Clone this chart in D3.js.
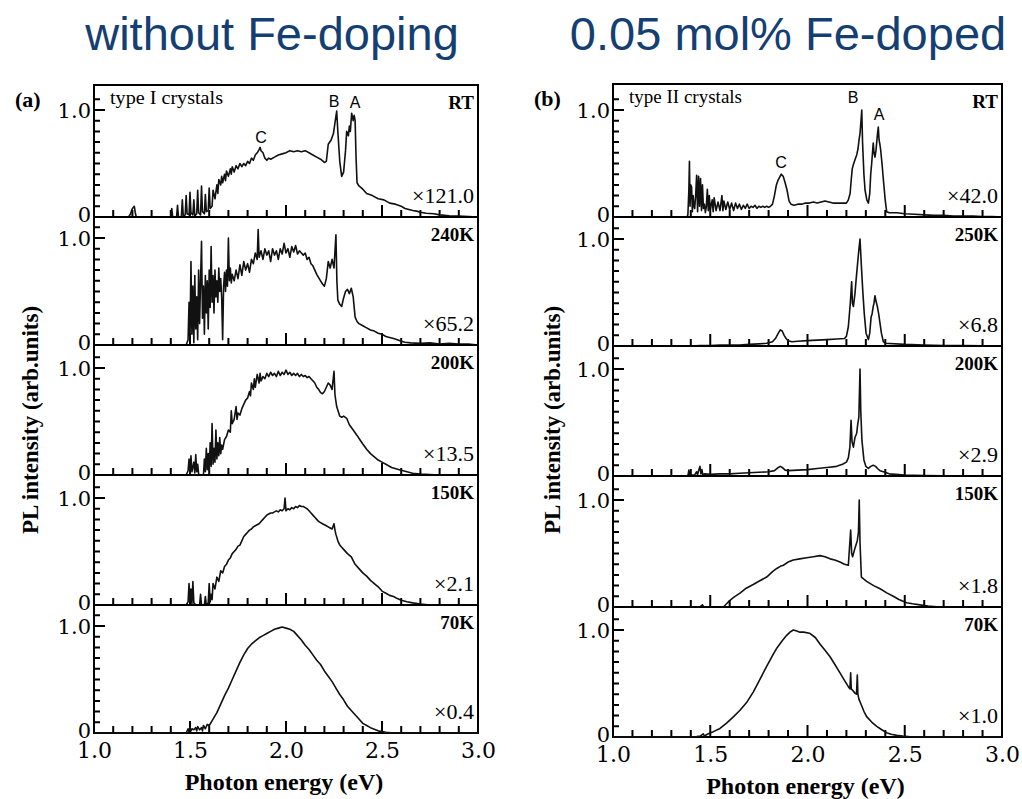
<!DOCTYPE html>
<html>
<head>
<meta charset="utf-8">
<script src="https://cdn.jsdelivr.net/npm/d3@7"></script>
<style>
  body { margin: 0; background: #fff; }
  svg { display: block; }
  .serif { font-family: "Liberation Serif", "Times New Roman", serif; }
</style>
</head>
<body>
<svg id="chart" width="1022" height="799"></svg>
<script>
// ---- data ----
const titles = ["without Fe-doping", "0.05 mol% Fe-doped"];
const panelTags = ["(a)", "(b)"];
const crystalTypes = ["type I crystals", "type II crystals"];
const tempsA = ["RT", "240K", "200K", "150K", "70K"];
const tempsB = ["RT", "250K", "200K", "150K", "70K"];
const factorsA = ["×121.0", "×65.2", "×13.5", "×2.1", "×0.4"];
const factorsB = ["×42.0", "×6.8", "×2.9", "×1.8", "×1.0"];
const xTickLabels = [1.0, 1.5, 2.0, 2.5, 3.0];
const xMinorTicks = [1.1, 1.2, 1.3, 1.4, 1.6, 1.7, 1.8, 1.9, 2.1, 2.2, 2.3, 2.4, 2.6, 2.7, 2.8, 2.9];
const xMajorTicks = [1.5, 2.0, 2.5];
const yMinorTicks = [0.1, 0.2, 0.3, 0.4, 0.5, 0.6, 0.7, 0.8, 0.9, 1.1];
const yTickLabels = [0, 1.0];

// peak letters on the RT spectra: [letter, eV, level]
const peaksA = [["C", 1.87, 0.69], ["B", 2.25, 1.03], ["A", 2.36, 1.02]];
const peaksB = [["C", 1.864, 0.46], ["B", 2.234, 1.07], ["A", 2.368, 0.91]];

// type I, RT
const a_RT = [[1.0,0],[1.18,0],[1.19,0.03],[1.2,0.08],[1.21,0.1],[1.215,0.04],[1.22,0],
  [1.4,0],[1.405,0.08],[1.41,0],[1.43,0],[1.435,0.11],[1.44,0],[1.455,0],[1.46,0.16],[1.465,0.01],
  [1.475,0.02],[1.48,0.2],[1.485,0.03],[1.495,0.02],[1.5,0.23],[1.505,0.04],[1.515,0.02],[1.52,0.16],
  [1.525,0.01],[1.535,0.03],[1.54,0.25],[1.545,0.04],[1.555,0.02],[1.56,0.29],[1.565,0.05],[1.575,0.03],
  [1.58,0.21],[1.585,0.05],[1.595,0.06],[1.6,0.27],[1.605,0.08],[1.615,0.1],[1.62,0.25],[1.63,0.17],
  [1.64,0.3],[1.645,0.22],[1.65,0.35],[1.66,0.3],[1.665,0.38],[1.67,0.32],[1.68,0.4],[1.685,0.34],
  [1.69,0.43],[1.7,0.38],[1.71,0.45],[1.715,0.4],[1.72,0.47],[1.73,0.42],[1.74,0.48],[1.75,0.45],
  [1.76,0.5],[1.77,0.47],[1.78,0.5],[1.79,0.48],[1.8,0.52],[1.81,0.5],[1.82,0.55],[1.83,0.53],
  [1.84,0.58],[1.85,0.6],[1.86,0.63],[1.865,0.65],[1.87,0.62],[1.88,0.6],[1.89,0.55],[1.9,0.53],
  [1.91,0.55],[1.92,0.54],[1.94,0.56],[1.96,0.58],[1.98,0.59],[2.0,0.6],[2.02,0.62],[2.04,0.61],
  [2.06,0.62],[2.08,0.61],[2.1,0.62],[2.12,0.6],[2.14,0.58],[2.16,0.56],[2.18,0.54],[2.2,0.51],
  [2.21,0.52],[2.22,0.68],[2.235,0.72],[2.247,0.78],[2.255,0.88],[2.264,0.99],[2.27,0.8],[2.28,0.52],
  [2.29,0.38],[2.3,0.42],[2.31,0.62],[2.316,0.8],[2.325,0.76],[2.33,0.85],[2.335,0.8],[2.342,0.97],
  [2.35,0.9],[2.355,0.95],[2.36,0.9],[2.365,0.55],[2.37,0.32],[2.38,0.29],[2.4,0.26],[2.42,0.22],
  [2.45,0.2],[2.48,0.17],[2.51,0.16],[2.54,0.13],[2.57,0.12],[2.6,0.1],[2.62,0.08],[2.64,0.07],
  [2.66,0.06],[2.68,0.055],[2.7,0.045],[2.73,0.035],[2.77,0.03],[2.8,0.02],[2.85,0.012],[2.9,0.01],
  [2.95,0.005],[3.0,0]];

// type I, 240K
const a_240 = [[1.0,0],[1.48,0],[1.49,0.05],[1.495,0.4],[1.5,0.05],[1.505,0.78],[1.51,0.1],[1.515,0.55],
  [1.52,0.02],[1.525,0.65],[1.53,0.15],[1.535,0.45],[1.54,0.05],[1.545,0.7],[1.55,0.2],[1.555,0.6],
  [1.56,0.97],[1.565,0.25],[1.57,0.55],[1.575,0.1],[1.58,0.65],[1.585,0.3],[1.59,0.6],[1.595,0.15],
  [1.6,0.7],[1.605,0.35],[1.61,0.92],[1.615,0.4],[1.62,0.65],[1.625,0.3],[1.63,0.7],[1.635,0.45],
  [1.64,0.6],[1.645,0.4],[1.65,0.72],[1.655,0.5],[1.66,0.62],[1.665,0.45],[1.67,0.05],[1.675,0.55],
  [1.68,0.68],[1.685,0.5],[1.69,0.7],[1.695,0.55],[1.7,1.0],[1.705,0.6],[1.71,0.72],[1.715,0.58],
  [1.72,0.66],[1.73,0.6],[1.74,0.7],[1.75,0.62],[1.76,0.75],[1.77,0.65],[1.78,0.78],[1.79,0.7],
  [1.8,0.76],[1.81,0.68],[1.82,0.8],[1.83,0.76],[1.84,0.86],[1.85,0.8],[1.855,1.08],[1.86,0.82],
  [1.87,0.88],[1.88,0.8],[1.89,0.9],[1.9,0.84],[1.91,0.88],[1.92,0.78],[1.93,0.9],[1.94,0.84],
  [1.95,0.88],[1.96,0.8],[1.97,0.9],[1.98,0.85],[1.99,0.95],[2.0,0.86],[2.01,0.9],[2.02,0.82],
  [2.03,0.92],[2.04,0.87],[2.05,0.93],[2.06,0.85],[2.07,0.88],[2.08,0.86],[2.09,0.84],[2.1,0.86],
  [2.11,0.8],[2.12,0.82],[2.13,0.76],[2.14,0.74],[2.15,0.7],[2.16,0.66],[2.17,0.63],[2.18,0.6],
  [2.19,0.57],[2.2,0.55],[2.21,0.62],[2.22,0.78],[2.23,0.72],[2.24,0.8],[2.25,0.72],[2.26,1.03],
  [2.265,0.6],[2.27,0.42],[2.28,0.38],[2.29,0.36],[2.3,0.44],[2.31,0.5],[2.32,0.52],[2.33,0.48],
  [2.34,0.53],[2.35,0.45],[2.36,0.26],[2.37,0.22],[2.38,0.2],[2.4,0.18],[2.42,0.16],[2.44,0.14],
  [2.46,0.13],[2.48,0.11],[2.5,0.1],[2.52,0.08],[2.54,0.07],[2.56,0.06],[2.58,0.05],[2.6,0.035],
  [2.62,0.025],[2.65,0.02],[2.7,0.015],[2.75,0.02],[2.8,0.01],[2.85,0.015],[2.9,0.01],[2.95,0.01],[3.0,0]];

// type I, 200K
const a_200 = [[1.0,0],[1.48,0],[1.49,0.04],[1.495,0.15],[1.5,0.02],[1.505,0.18],[1.51,0.03],[1.52,0.12],
  [1.525,0.02],[1.53,0.19],[1.535,0.03],[1.54,0.1],[1.545,0.01],[1.55,0],[1.57,0],[1.575,0.15],
  [1.58,0.03],[1.585,0.25],[1.59,0.05],[1.595,0.2],[1.6,0.04],[1.605,0.3],[1.61,0.08],[1.615,0.48],
  [1.62,0.1],[1.625,0.25],[1.63,0.12],[1.635,0.42],[1.64,0.15],[1.645,0.3],[1.65,0.18],[1.655,0.35],
  [1.66,0.2],[1.665,0.28],[1.67,0.24],[1.68,0.33],[1.69,0.36],[1.7,0.42],[1.71,0.4],[1.715,0.6],
  [1.72,0.48],[1.73,0.52],[1.74,0.64],[1.745,0.52],[1.75,0.58],[1.76,0.56],[1.77,0.62],[1.78,0.66],
  [1.79,0.7],[1.8,0.72],[1.81,0.78],[1.815,0.74],[1.82,0.86],[1.83,0.8],[1.835,0.9],[1.84,0.82],
  [1.85,0.94],[1.86,0.86],[1.865,0.95],[1.87,0.88],[1.88,0.92],[1.89,0.9],[1.9,0.95],[1.91,0.92],
  [1.92,0.96],[1.93,0.93],[1.94,0.95],[1.95,0.92],[1.96,0.97],[1.97,0.93],[1.98,0.96],[1.99,0.94],
  [2.0,0.98],[2.01,0.94],[2.02,0.96],[2.03,0.93],[2.04,0.95],[2.05,0.93],[2.06,0.95],[2.07,0.92],
  [2.08,0.94],[2.09,0.92],[2.1,0.93],[2.11,0.91],[2.12,0.92],[2.13,0.9],[2.14,0.88],[2.15,0.86],
  [2.16,0.82],[2.17,0.8],[2.18,0.77],[2.19,0.76],[2.2,0.78],[2.21,0.82],[2.22,0.86],[2.23,0.84],
  [2.24,0.8],[2.25,0.97],[2.255,0.75],[2.264,0.64],[2.28,0.55],[2.29,0.54],[2.3,0.55],[2.316,0.53],
  [2.33,0.47],[2.35,0.42],[2.37,0.37],[2.385,0.33],[2.4,0.29],[2.42,0.24],[2.44,0.2],[2.46,0.17],
  [2.48,0.14],[2.5,0.12],[2.52,0.1],[2.55,0.07],[2.59,0.05],[2.63,0.03],[2.66,0.016],[2.7,0.008],
  [2.75,0.004],[2.8,0],[3.0,0]];

// type I, 150K
const a_150 = [[1.0,0],[1.48,0],[1.49,0.03],[1.495,0.2],[1.5,0.02],[1.505,0.15],[1.51,0.01],[1.515,0.22],
  [1.52,0.02],[1.53,0],[1.55,0],[1.555,0.1],[1.56,0],[1.575,0],[1.58,0.08],[1.585,0],[1.595,0.02],
  [1.6,0.2],[1.605,0.03],[1.61,0.1],[1.615,0.05],[1.62,0.2],[1.63,0.15],[1.64,0.26],[1.65,0.22],
  [1.66,0.32],[1.67,0.3],[1.68,0.36],[1.69,0.38],[1.7,0.42],[1.71,0.44],[1.72,0.48],[1.73,0.5],
  [1.74,0.52],[1.75,0.55],[1.76,0.56],[1.77,0.6],[1.78,0.64],[1.79,0.66],[1.8,0.68],[1.81,0.7],
  [1.82,0.71],[1.83,0.73],[1.84,0.74],[1.85,0.75],[1.86,0.76],[1.87,0.78],[1.88,0.8],[1.89,0.82],
  [1.9,0.84],[1.91,0.85],[1.92,0.86],[1.93,0.86],[1.94,0.87],[1.95,0.88],[1.96,0.87],[1.97,0.89],
  [1.98,0.88],[1.99,0.9],[1.995,1.0],[2.0,0.88],[2.01,0.9],[2.02,0.89],[2.03,0.91],[2.04,0.9],
  [2.05,0.92],[2.06,0.91],[2.07,0.93],[2.08,0.92],[2.09,0.92],[2.1,0.91],[2.11,0.9],[2.12,0.88],
  [2.13,0.86],[2.14,0.84],[2.15,0.82],[2.16,0.8],[2.17,0.78],[2.18,0.77],[2.19,0.76],[2.2,0.75],
  [2.21,0.74],[2.22,0.73],[2.23,0.72],[2.24,0.71],[2.25,0.76],[2.255,0.7],[2.26,0.66],[2.27,0.6],
  [2.28,0.56],[2.29,0.54],[2.3,0.52],[2.32,0.48],[2.34,0.45],[2.36,0.38],[2.38,0.34],[2.4,0.3],
  [2.42,0.27],[2.44,0.23],[2.46,0.2],[2.48,0.17],[2.5,0.13],[2.52,0.11],[2.54,0.09],[2.56,0.08],
  [2.58,0.06],[2.6,0.045],[2.63,0.03],[2.66,0.02],[2.7,0.01],[2.75,0],[3.0,0]];

// type I, 70K
const a_70 = [[1.0,0],[1.48,0],[1.49,0.04],[1.495,0.01],[1.5,0.05],[1.505,0.02],[1.51,0.04],[1.52,0.03],
  [1.53,0.05],[1.535,0.02],[1.54,0.06],[1.55,0.03],[1.56,0.05],[1.565,0.02],[1.57,0.07],[1.58,0.04],
  [1.59,0.08],[1.6,0.07],[1.61,0.1],[1.62,0.13],[1.64,0.19],[1.66,0.27],[1.68,0.35],[1.7,0.42],
  [1.72,0.5],[1.74,0.58],[1.76,0.66],[1.78,0.73],[1.8,0.79],[1.82,0.83],[1.84,0.86],[1.86,0.89],
  [1.88,0.91],[1.9,0.93],[1.92,0.95],[1.94,0.97],[1.96,0.98],[1.98,0.99],[2.0,0.98],[2.02,0.97],
  [2.04,0.95],[2.06,0.91],[2.08,0.87],[2.1,0.82],[2.12,0.78],[2.14,0.73],[2.16,0.68],[2.18,0.64],
  [2.2,0.58],[2.22,0.53],[2.24,0.48],[2.26,0.42],[2.28,0.36],[2.3,0.31],[2.32,0.25],[2.34,0.21],
  [2.36,0.17],[2.38,0.13],[2.4,0.09],[2.42,0.07],[2.44,0.05],[2.46,0.035],[2.48,0.02],[2.52,0.006],
  [2.56,0],[3.0,0]];

// type II, RT
const b_RT = [[1.0,0],[1.38,0],[1.385,0.02],[1.39,0.25],[1.393,0.52],[1.396,0.1],[1.4,0.3],[1.404,0.28],
  [1.408,0.05],[1.412,0.2],[1.416,0.1],[1.42,0.08],[1.425,0.2],[1.43,0.39],[1.435,0.05],[1.44,0.38],
  [1.445,0.1],[1.45,0.36],[1.455,0.06],[1.46,0.3],[1.465,0.08],[1.47,0.12],[1.475,0.04],[1.48,0.1],
  [1.485,0.26],[1.49,0.06],[1.495,0.2],[1.5,0.07],[1.51,0.16],[1.515,0.05],[1.52,0.18],[1.53,0.06],
  [1.54,0.14],[1.55,0.06],[1.56,0.2],[1.565,0.06],[1.57,0.15],[1.58,0.07],[1.59,0.14],[1.6,0.07],
  [1.61,0.13],[1.62,0.06],[1.63,0.13],[1.64,0.08],[1.65,0.12],[1.66,0.07],[1.67,0.11],[1.68,0.08],
  [1.69,0.12],[1.7,0.08],[1.71,0.1],[1.72,0.09],[1.73,0.11],[1.74,0.08],[1.75,0.1],[1.76,0.09],
  [1.77,0.1],[1.78,0.09],[1.79,0.1],[1.8,0.09],[1.81,0.1],[1.82,0.12],[1.83,0.2],[1.84,0.3],
  [1.85,0.35],[1.865,0.4],[1.875,0.38],[1.885,0.32],[1.895,0.25],[1.905,0.15],[1.915,0.12],[1.93,0.11],
  [1.95,0.12],[1.97,0.12],[1.99,0.13],[2.01,0.13],[2.03,0.14],[2.05,0.13],[2.07,0.14],[2.09,0.15],
  [2.11,0.14],[2.13,0.13],[2.15,0.13],[2.17,0.13],[2.2,0.13],[2.21,0.16],[2.219,0.22],[2.225,0.35],
  [2.23,0.45],[2.236,0.49],[2.245,0.54],[2.253,0.58],[2.26,0.64],[2.265,0.72],[2.27,0.78],[2.275,0.9],
  [2.279,1.0],[2.283,0.7],[2.29,0.4],[2.296,0.25],[2.305,0.16],[2.313,0.13],[2.32,0.22],[2.325,0.4],
  [2.33,0.5],[2.335,0.62],[2.338,0.69],[2.342,0.6],[2.347,0.56],[2.352,0.62],[2.356,0.7],[2.36,0.78],
  [2.364,0.84],[2.368,0.72],[2.372,0.68],[2.376,0.63],[2.383,0.5],[2.39,0.35],[2.4,0.15],[2.407,0.05],
  [2.42,0.04],[2.46,0.04],[2.5,0.03],[2.55,0.025],[2.6,0.02],[2.65,0.015],[2.7,0.015],[2.75,0.01],
  [2.8,0.01],[2.85,0.01],[2.9,0.005],[2.95,0.005],[3.0,0]];

// type II, 250K
const b_250 = [[1.0,0],[1.4,0],[1.45,0.005],[1.5,0.005],[1.55,0.008],[1.6,0.01],[1.65,0.01],[1.7,0.015],
  [1.75,0.02],[1.79,0.025],[1.82,0.04],[1.835,0.07],[1.85,0.12],[1.86,0.15],[1.87,0.14],[1.88,0.1],
  [1.89,0.07],[1.9,0.05],[1.92,0.04],[1.95,0.045],[2.0,0.05],[2.05,0.055],[2.1,0.06],[2.15,0.065],
  [2.19,0.07],[2.2,0.09],[2.21,0.18],[2.22,0.4],[2.227,0.6],[2.231,0.4],[2.236,0.37],[2.244,0.49],
  [2.25,0.62],[2.256,0.74],[2.263,0.88],[2.27,1.0],[2.277,0.75],[2.284,0.52],[2.292,0.3],[2.301,0.12],
  [2.313,0.06],[2.32,0.12],[2.327,0.27],[2.332,0.3],[2.338,0.37],[2.342,0.4],[2.347,0.47],[2.352,0.42],
  [2.359,0.37],[2.366,0.3],[2.373,0.21],[2.38,0.12],[2.39,0.04],[2.4,0.025],[2.5,0.015],[2.6,0.01],
  [2.7,0.005],[2.8,0.005],[3.0,0]];

// type II, 200K
const b_200 = [[1.0,0],[1.385,0],[1.39,0.055],[1.395,0.01],[1.42,0.01],[1.43,0.04],[1.435,0.01],[1.44,0.05],
  [1.447,0.09],[1.452,0.02],[1.457,0.06],[1.462,0.01],[1.47,0.02],[1.5,0.015],[1.55,0.02],[1.6,0.02],
  [1.65,0.025],[1.7,0.03],[1.75,0.035],[1.8,0.04],[1.83,0.05],[1.85,0.08],[1.86,0.09],[1.87,0.08],
  [1.885,0.055],[1.9,0.05],[1.95,0.055],[2.0,0.06],[2.05,0.07],[2.1,0.08],[2.15,0.09],[2.18,0.11],
  [2.2,0.13],[2.21,0.17],[2.218,0.27],[2.224,0.52],[2.229,0.32],[2.236,0.27],[2.244,0.36],[2.253,0.4],
  [2.258,0.48],[2.264,0.55],[2.27,1.0],[2.274,0.6],[2.28,0.33],[2.29,0.15],[2.3,0.09],[2.313,0.07],
  [2.325,0.09],[2.338,0.1],[2.35,0.09],[2.36,0.07],[2.373,0.05],[2.39,0.04],[2.42,0.02],[2.5,0.01],
  [2.6,0.005],[2.7,0.003],[3.0,0]];

// type II, 150K
const b_150 = [[1.0,0],[1.4,0],[1.45,0.005],[1.46,0.02],[1.465,0.005],[1.5,0.003],[1.55,0],[1.57,0.005],
  [1.584,0.03],[1.6,0.06],[1.62,0.09],[1.653,0.13],[1.68,0.17],[1.721,0.21],[1.75,0.24],[1.79,0.28],
  [1.82,0.33],[1.842,0.36],[1.86,0.38],[1.876,0.39],[1.9,0.42],[1.927,0.44],[1.96,0.45],[1.996,0.46],
  [2.03,0.47],[2.064,0.48],[2.09,0.47],[2.116,0.45],[2.14,0.44],[2.167,0.42],[2.19,0.4],[2.21,0.39],
  [2.222,0.72],[2.227,0.5],[2.232,0.47],[2.244,0.55],[2.256,0.62],[2.262,0.7],[2.266,1.0],[2.27,0.6],
  [2.277,0.28],[2.29,0.26],[2.304,0.24],[2.34,0.2],[2.373,0.17],[2.41,0.13],[2.441,0.1],[2.47,0.07],
  [2.51,0.04],[2.54,0.03],[2.578,0.02],[2.62,0.01],[2.664,0.003],[2.7,0],[3.0,0]];

// type II, 70K
const b_70 = [[1.0,0],[1.4,0],[1.43,0.005],[1.45,0.01],[1.464,0.03],[1.47,0.01],[1.49,0.03],[1.516,0.05],
  [1.55,0.08],[1.584,0.13],[1.62,0.19],[1.653,0.25],[1.69,0.33],[1.721,0.42],[1.75,0.52],[1.79,0.66],
  [1.82,0.76],[1.842,0.83],[1.87,0.9],[1.893,0.95],[1.91,0.98],[1.927,1.0],[1.945,0.99],[1.961,0.98],
  [1.98,0.98],[2.01,0.97],[2.04,0.93],[2.064,0.87],[2.09,0.81],[2.116,0.75],[2.14,0.68],[2.167,0.6],
  [2.19,0.53],[2.21,0.47],[2.218,0.45],[2.222,0.6],[2.225,0.45],[2.235,0.43],[2.244,0.41],[2.252,0.4],
  [2.256,0.58],[2.259,0.4],[2.265,0.35],[2.27,0.33],[2.29,0.24],[2.304,0.19],[2.33,0.14],[2.356,0.1],
  [2.38,0.07],[2.407,0.04],[2.43,0.025],[2.459,0.015],[2.49,0.008],[2.527,0.003],[2.56,0],[3.0,0]];

// ---- layout ----
const panels = [
  { left: 94, right: 478, rows: [85, 217, 345, 475, 605, 733], titleX: 272, ylabX: 38,
    spectra: [a_RT, a_240, a_200, a_150, a_70], temps: tempsA, factors: factorsA, peaks: peaksA },
  { left: 613, right: 1002, rows: [84, 217, 346, 476, 607, 737], titleX: 788, ylabX: 560,
    spectra: [b_RT, b_250, b_200, b_150, b_70], temps: tempsB, factors: factorsB, peaks: peaksB }
];
const unitPx = 107;
const tickFont = "DejaVu Serif, serif";

const svg = d3.select("#chart");

panels.forEach((p, pi) => {
  const g = svg.append("g");
  const x = d3.scaleLinear().domain([1.0, 3.0]).range([p.left, p.right]);

  // title
  svg.append("text")
    .attr("x", p.titleX).attr("y", 50)
    .attr("text-anchor", "middle")
    .attr("font-family", "Liberation Sans, Arial, sans-serif")
    .attr("font-size", 47)
    .attr("fill", "#153f73")
    .text(titles[pi]);

  p.spectra.forEach((spec, ri) => {
    const top = p.rows[ri], bottom = p.rows[ri + 1];
    const y = d3.scaleLinear().domain([0, 1]).range([bottom, bottom - unitPx]);
    const row = g.append("g");

    // frame
    row.append("rect")
      .attr("x", p.left).attr("y", top)
      .attr("width", p.right - p.left).attr("height", bottom - top)
      .attr("fill", "none").attr("stroke", "#000").attr("stroke-width", 2);

    // tick marks: x ticks up from the bottom edge, y ticks right from the left edge
    const tickPath = d3.path();
    xMinorTicks.forEach(v => { tickPath.moveTo(x(v), bottom); tickPath.lineTo(x(v), bottom - 7); });
    xMajorTicks.forEach(v => { tickPath.moveTo(x(v), bottom); tickPath.lineTo(x(v), bottom - 12); });
    yMinorTicks.forEach(v => { tickPath.moveTo(p.left, y(v)); tickPath.lineTo(p.left + 6, y(v)); });
    tickPath.moveTo(p.left, y(1)); tickPath.lineTo(p.left + 11, y(1));
    row.append("path")
      .attr("d", tickPath.toString())
      .attr("fill", "none")
      .attr("stroke", "#000")
      .attr("stroke-width", 2);

    // y tick labels
    row.selectAll("text.ylab")
      .data(yTickLabels)
      .join("text")
      .attr("class", "ylab")
      .attr("x", p.left - 3)
      .attr("y", d => y(d))
      .attr("dy", d => d === 0 ? "0.26em" : "0.36em")
      .attr("text-anchor", "end")
      .attr("font-family", tickFont)
      .attr("font-size", 21)
      .text(d => d === 0 ? "0" : "1.0");

    // spectrum
    row.append("path")
      .datum(spec)
      .attr("d", d3.line().x(d => x(d[0])).y(d => y(d[1])))
      .attr("fill", "none")
      .attr("stroke", "#111")
      .attr("stroke-width", 1.6)
      .attr("stroke-linejoin", "round");

    // temperature and scale factor
    row.append("text")
      .attr("x", p.right - 4).attr("y", top + 24)
      .attr("text-anchor", "end")
      .attr("class", "serif")
      .attr("font-size", 19).attr("font-weight", "bold")
      .text(p.temps[ri]);
    row.append("text")
      .attr("x", p.right - 4).attr("y", bottom - 14)
      .attr("text-anchor", "end")
      .attr("class", "serif")
      .attr("font-size", 22)
      .text(p.factors[ri]);

    if (ri === 0) {
      row.append("text")
        .attr("x", p.left + 16).attr("y", top + 19)
        .attr("class", "serif")
        .attr("font-size", 19)
        .attr("textLength", 113).attr("lengthAdjust", "spacingAndGlyphs")
        .text(crystalTypes[pi]);
      row.selectAll(".peak")
        .data(p.peaks)
        .join("text")
        .attr("class", "peak")
        .attr("x", d => x(d[1])).attr("y", d => y(d[2]))
        .attr("text-anchor", "middle")
        .attr("font-family", "Liberation Sans, Arial, sans-serif")
        .attr("font-size", 16)
        .text(d => d[0]);
    }
  });

  // bottom tick labels
  const last = p.rows[5];
  g.append("g")
    .attr("transform", `translate(0,${last})`)
    .call(d3.axisBottom(x).tickValues(xTickLabels).tickSize(0).tickPadding(9).tickFormat(d3.format(".1f")))
    .call(a => a.select(".domain").remove())
    .selectAll("text")
    .attr("font-family", tickFont)
    .attr("font-size", 22)
    .attr("fill", "#000");

  // axis titles
  g.append("text")
    .attr("x", (p.left + p.right) / 2 - 2).attr("y", last + 57)
    .attr("text-anchor", "middle")
    .attr("class", "serif")
    .attr("font-size", 24).attr("font-weight", "bold")
    .text("Photon energy (eV)");
  g.append("text")
    .attr("transform", `translate(${p.ylabX},420) rotate(-90)`)
    .attr("text-anchor", "middle")
    .attr("class", "serif")
    .attr("font-size", 23).attr("font-weight", "bold")
    .text("PL intensity (arb.units)");

  g.append("text")
    .attr("x", p.left - 79).attr("y", p.rows[0] + 22)
    .attr("class", "serif")
    .attr("font-size", 22).attr("font-weight", "bold")
    .text(panelTags[pi]);
});
</script>
</body>
</html>
